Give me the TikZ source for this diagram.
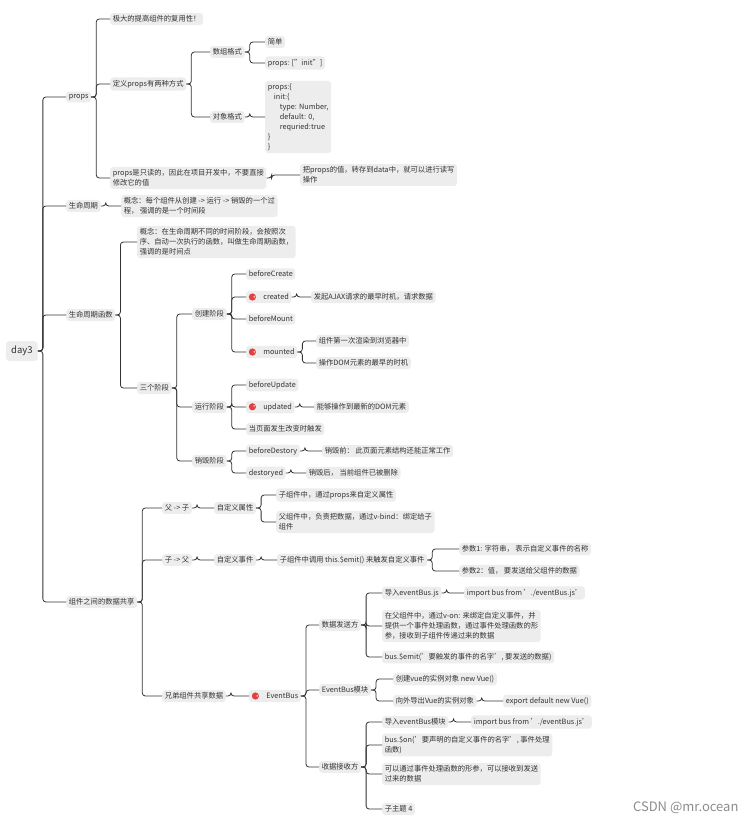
\documentclass[tikz,border=0pt]{standalone}
\usepackage{fontspec}
\setmainfont{Noto Sans CJK SC}
\usepackage{tikz}

\tikzset{
  n/.style={anchor=west,fill=black!7,rounded corners=3pt,inner sep=2.6pt,align=left,
    font=\fontsize{7.3}{10}\selectfont,text=black!80},
  br/.style={line width=0.8pt,black!80,rounded corners=3pt},
}
\newcommand\ico{\tikz[baseline=-0.6ex]{\fill[red!85!black!75] (0,0) circle(3.6pt);
  \node[white,inner sep=0,font=\tiny] at (0,0) {$\star$};}\hspace{7pt}}

\begin{document}
\begin{tikzpicture}[x=1pt,y=1pt]
\useasboundingbox (0,0) rectangle (745,-823);
% root
\node[n,inner sep=5pt,font=\fontsize{9.5}{11}\selectfont] (day) at (6,-351) {day3};
% level 1
\node[n] (props) at (66,-97) {props};
\node[n] (life) at (66,-206) {生命周期};
\node[n] (func) at (66,-315) {生命周期函数};
\node[n] (share) at (66,-602) {组件之间的数据共享};
% props
\node[n] (reuse) at (110,-19) {极大的提高组件的复用性！};
\node[n] (two) at (110,-84) {定义props有两种方式};
\node[n] (ro) at (110,-178) {props是只读的，因此在项目开发中，不要直接\\修改它的值};
\node[n] (arr) at (210,-52) {数组格式};
\node[n] (obj) at (210,-117) {对象格式};
\node[n] (easy) at (265,-42) {简单};
\node[n] (arrc) at (265,-63) {props: ["init"]};
\node[n] (objc) at (265,-117) {props:\{\\\hspace{6pt}init:\{\\\hspace{12pt}type: Number,\\\hspace{12pt}default: 0,\\\hspace{12pt}requried:true\\\}\\\}};
\node[n] (data) at (300,-175) {把props的值，转存到data中，就可以进行读写\\操作};
% lifecycle
\node[n] (lifec) at (121,-206) {概念：每个组件从创建 -> 运行 -> 销毁的一个过\\程， 强调的是一个时间段};
\node[n] (funcc) at (137,-242) {概念：在生命周期不同的时间阶段，会按照次\\序、自动一次执行的函数，叫做生命周期函数，\\强调的是时间点};
\node[n] (three) at (137,-388) {三个阶段};
\node[n] (cre) at (192,-314) {创建阶段};
\node[n] (run) at (192,-407) {运行阶段};
\node[n] (des) at (192,-461) {销毁阶段};
\node[n] (bc) at (246,-274) {beforeCreate};
\node[n] (cd) at (246,-297) {\ico created};
\node[n] (bm) at (246,-319) {beforeMount};
\node[n] (md) at (246,-352) {\ico mounted};
\node[n] (ajax) at (311,-297) {发起AJAX请求的最早时机，请求数据};
\node[n] (first) at (316,-341) {组件第一次渲染到浏览器中};
\node[n] (dom) at (316,-363) {操作DOM元素的最早的时机};
\node[n] (bu) at (246,-385) {beforeUpdate};
\node[n] (ud) at (246,-407) {\ico updated};
\node[n] (chg) at (246,-429) {当页面发生改变时触发};
\node[n] (newdom) at (314,-407) {能够操作到最新的DOM元素};
\node[n] (bd) at (246,-451) {beforeDestory};
\node[n] (dd) at (246,-473) {destoryed};
\node[n] (bdc) at (322,-451) {销毁前： 此页面元素结构还能正常工作};
\node[n] (ddc) at (306,-473) {销毁后， 当前组件已被删除};
% sharing
\node[n] (f2c) at (162,-508) {父 -> 子};
\node[n] (c2f) at (162,-560) {子 -> 父};
\node[n] (sib) at (162,-696) {兄弟组件共享数据};
\node[n] (attr) at (214,-508) {自定义属性};
\node[n] (attr1) at (276,-495) {子组件中，通过props来自定义属性};
\node[n] (attr2) at (276,-522) {父组件中，负责把数据，通过v-bind：绑定给子\\组件};
\node[n] (evt) at (214,-560) {自定义事件};
\node[n] (emit) at (277,-560) {子组件中调用 this.\$emit() 来触发自定义事件};
\node[n] (p1) at (459,-549) {参数1: 字符串， 表示自定义事件的名称};
\node[n] (p2) at (459,-571) {参数2：值， 要发送给父组件的数据};
\node[n] (bus) at (249,-696) {\ico EventBus};
\node[n] (send) at (319,-625) {数据发送方};
\node[n] (mod) at (319,-690) {EventBus模块};
\node[n] (recv) at (319,-767) {收据接收方};
\node[n] (s1) at (382,-593) {导入eventBus.js};
\node[n] (s1c) at (464,-593) {import bus from './eventBus.js'};
\node[n] (s2) at (382,-626) {在父组件中，通过v-on: 来绑定自定义事件，并\\提供一个事件处理函数，通过事件处理函数的形\\参，接收到子组件传递过来的数据};
\node[n] (s3) at (382,-657) {bus.\$emit('要触发的事件的名字', 要发送的数据)};
\node[n] (m1) at (393,-679) {创建vue的实例对象 new Vue()};
\node[n] (m2) at (393,-701) {向外导出Vue的实例对象};
\node[n] (m2c) at (503,-701) {export default new Vue()};
\node[n] (r1) at (382,-722) {导入eventBus模块};
\node[n] (r1c) at (471,-722) {import bus from './eventBus.js'};
\node[n] (r2) at (382,-745) {bus.\$on('要声明的自定义事件的名字', 事件处理\\函数)};
\node[n] (r3) at (382,-774) {可以通过事件处理函数的形参，可以接收到发送\\过来的数据};
\node[n] (r4) at (382,-809) {子主题 4};
% connectors
\foreach \a/\b in {day/props,day/life,day/func,day/share,
  props/reuse,props/two,props/ro,two/arr,two/obj,arr/easy,arr/arrc,obj/objc,ro/data,
  life/lifec,func/funcc,func/three,three/cre,three/run,three/des,
  cre/bc,cre/cd,cre/bm,cre/md,cd/ajax,md/first,md/dom,
  run/bu,run/ud,run/chg,ud/newdom,des/bd,des/dd,bd/bdc,dd/ddc,
  share/f2c,share/c2f,share/sib,f2c/attr,attr/attr1,attr/attr2,
  c2f/evt,evt/emit,emit/p1,emit/p2,sib/bus,bus/send,bus/mod,bus/recv,
  send/s1,send/s2,send/s3,s1/s1c,mod/m1,mod/m2,m2/m2c,
  recv/r1,recv/r2,recv/r3,recv/r4,r1/r1c}
  \draw[br] (\a.east) -- ++(5,0) |- (\b.west);
\node[anchor=east,text=black!45,font=\fontsize{13}{14}\selectfont] (mark) at (742,-808) {CSDN @mr.ocean};
\end{tikzpicture}
\end{document}
